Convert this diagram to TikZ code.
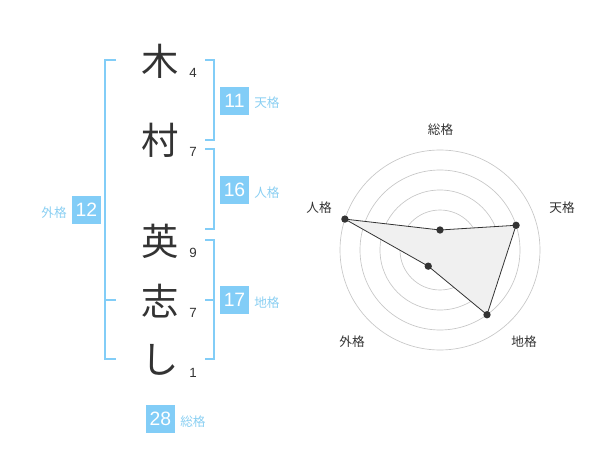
\documentclass[tikz,border=0pt]{standalone}
\usepackage{fontspec}
\setmainfont{Liberation Sans}
\newfontfamily\jp{Noto Sans CJK JP}
\definecolor{kblue}{HTML}{82CDF7}
\definecolor{klab}{HTML}{8ACFF2}
\definecolor{kdark}{HTML}{333333}
\begin{document}
\begin{tikzpicture}[x=0.75pt,y=-0.75pt,
  bigch/.style={font=\jp\fontsize{28}{28}\selectfont,text=kdark,inner sep=0pt},
  strk/.style={font=\fontsize{10}{10}\selectfont,text=kdark,inner sep=0pt},
  numbox/.style={fill=kblue,text=white,minimum width=21.75pt,minimum height=21pt,inner sep=0pt,font=\fontsize{14.5}{14.5}\selectfont},
  lab/.style={font=\jp\fontsize{9.5}{9.5}\selectfont,text=klab,inner sep=0pt},
  brk/.style={draw=kblue,line width=1.3pt},
  ring/.style={draw=black!22,line width=0.5pt},
  rlab/.style={font=\jp\fontsize{9.5}{9.5}\selectfont,text=kdark,inner sep=0pt},
  poly/.style={draw=kdark,line width=0.6pt,fill=black!6},
  dot/.style={circle,fill=kdark,inner sep=0pt,minimum size=5.5pt}]
\useasboundingbox (0,0) rectangle (600,470);
% characters
\node[bigch] (c1) at (160,61) {木};
\node[bigch] (c2) at (160,140) {村};
\node[bigch] (c3) at (160,241) {英};
\node[bigch] (c4) at (160,301) {志};
\node[bigch] (c5) at (160,360) {し};
\node[strk] (s1) at (193,73) {4};
\node[strk] (s2) at (193,152) {7};
\node[strk] (s3) at (193,253) {9};
\node[strk] (s4) at (193,313) {7};
\node[strk] (s5) at (193,373) {1};
% brackets
\draw[brk] (205,60) -- (214,60) -- (214,140) -- (205,140);
\draw[brk] (205,149) -- (214,149) -- (214,229) -- (205,229);
\draw[brk] (205,240) -- (214,240) -- (214,359) -- (205,359);
\draw[brk] (205,300) -- (214,300);
\draw[brk] (116,60) -- (105,60) -- (105,359) -- (116,359);
\draw[brk] (105,300) -- (116,300);
% boxes
\node[numbox] (b1) at (234.5,101) {11};
\node[lab,anchor=west] (l1) at (254,103) {天格};
\node[numbox] (b2) at (234.5,190) {16};
\node[lab,anchor=west] (l2) at (254,193) {人格};
\node[numbox] (b3) at (234.5,300) {17};
\node[lab,anchor=west] (l3) at (254,303) {地格};
\node[numbox] (b4) at (86.5,210) {12};
\node[lab,anchor=east] (l4) at (67,213) {外格};
\node[numbox] (b5) at (160.5,419) {28};
\node[lab,anchor=west] (l5) at (180,422) {総格};
% radar
\coordinate (O) at (440,250);
\foreach \r in {20,40,60,80,100} \draw[ring] (O) circle[radius=\r*0.75pt];
\node[circle,fill=black!22,inner sep=0pt,minimum size=5pt] (cen) at (O) {};
\path (O) ++(0,-20) coordinate (pA);
\path (O) ++(-18:80) coordinate (pB);
\path (O) ++(54:80) coordinate (pC);
\path (O) ++(126:20) coordinate (pD);
\path (O) ++(-162:100) coordinate (pE);
\draw[poly] (pA) -- (pB) -- (pC) -- (pD) -- (pE) -- cycle;
\foreach \p in {pA,pB,pC,pD,pE} \node[dot] (d\p) at (\p) {};
\node[rlab] (rA) at (440.5,130) {総格};
\node[rlab] (rB) at (562,208) {天格};
\node[rlab] (rC) at (524,342) {地格};
\node[rlab] (rD) at (352,342) {外格};
\node[rlab] (rE) at (319,208) {人格};
\end{tikzpicture}
\end{document}
